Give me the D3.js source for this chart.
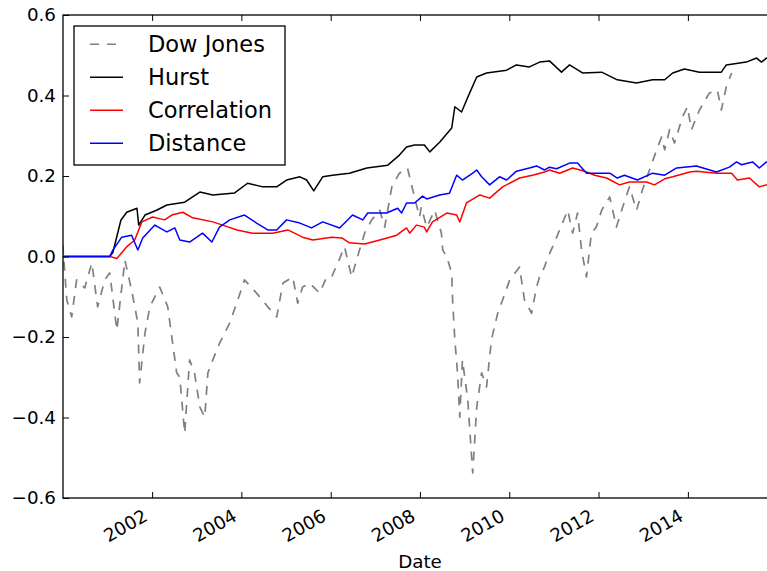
<!DOCTYPE html>
<html>
<head>
<meta charset="utf-8">
<script src="https://cdn.jsdelivr.net/npm/d3@7"></script>
<style>
  body { margin: 0; background: #fff; }
  text { font-family: "DejaVu Sans", sans-serif; fill: #000; }
</style>
</head>
<body>
<svg id="chart" width="767" height="571"></svg>
<script>
// values, [decimal year, value]
var dowJones = [
  [2000.00, 0.029], [2000.09, -0.108], [2000.20, -0.150], [2000.31, -0.058], [2000.49, -0.078],
  [2000.65, -0.016], [2000.78, -0.125], [2000.94, -0.058], [2001.05, -0.041], [2001.21, -0.183],
  [2001.39, -0.009], [2001.54, -0.083], [2001.68, -0.165], [2001.72, -0.314], [2001.84, -0.190],
  [2001.95, -0.125], [2002.17, -0.076], [2002.35, -0.125], [2002.55, -0.289], [2002.62, -0.300],
  [2002.73, -0.439], [2002.84, -0.257], [2002.95, -0.289], [2003.07, -0.374], [2003.18, -0.399],
  [2003.25, -0.289], [2003.36, -0.257], [2003.51, -0.216], [2003.74, -0.165], [2003.92, -0.108],
  [2004.07, -0.058], [2004.34, -0.091], [2004.59, -0.125], [2004.79, -0.150], [2004.93, -0.066],
  [2005.15, -0.051], [2005.26, -0.116], [2005.37, -0.076], [2005.53, -0.066], [2005.75, -0.091],
  [2005.91, -0.051], [2006.02, -0.051], [2006.16, -0.016], [2006.31, 0.024], [2006.47, -0.051],
  [2006.60, -0.001], [2006.76, 0.058], [2006.92, 0.091], [2007.10, 0.115], [2007.21, 0.073],
  [2007.37, 0.173], [2007.54, 0.207], [2007.72, 0.220], [2007.84, 0.165], [2007.99, 0.098],
  [2008.03, 0.123], [2008.15, 0.073], [2008.33, 0.115], [2008.48, 0.058], [2008.51, 0.016],
  [2008.60, -0.001], [2008.71, -0.041], [2008.73, -0.108], [2008.78, -0.207], [2008.84, -0.289],
  [2008.89, -0.399], [2008.95, -0.257], [2009.07, -0.357], [2009.18, -0.538], [2009.27, -0.374],
  [2009.38, -0.289], [2009.49, -0.324], [2009.60, -0.207], [2009.74, -0.141], [2009.85, -0.108],
  [2010.01, -0.058], [2010.23, -0.026], [2010.34, -0.108], [2010.50, -0.141], [2010.61, -0.076],
  [2010.68, -0.050], [2010.79, -0.026], [2010.84, -0.009], [2011.01, 0.034], [2011.19, 0.083],
  [2011.31, 0.115], [2011.42, 0.058], [2011.53, 0.108], [2011.62, 0.016], [2011.73, -0.051],
  [2011.84, 0.058], [2011.95, 0.073], [2012.07, 0.115], [2012.25, 0.148], [2012.40, 0.073],
  [2012.54, 0.123], [2012.69, 0.173], [2012.85, 0.115], [2012.98, 0.165], [2013.14, 0.215],
  [2013.30, 0.265], [2013.41, 0.297], [2013.48, 0.265], [2013.59, 0.315], [2013.70, 0.282],
  [2013.88, 0.347], [2013.99, 0.372], [2014.08, 0.315], [2014.26, 0.364], [2014.48, 0.406],
  [2014.66, 0.414], [2014.75, 0.364], [2014.86, 0.421], [2014.98, 0.456]
];

var hurst = [
  [2000.00, 0], [2001.05, 0], [2001.12, 0.010], [2001.30, 0.090], [2001.43, 0.110],
  [2001.66, 0.120], [2001.70, 0.078], [2001.84, 0.103], [2002.10, 0.115], [2002.33, 0.128],
  [2002.62, 0.133], [2002.73, 0.135], [2003.07, 0.160], [2003.36, 0.153], [2003.85, 0.158],
  [2004.14, 0.182], [2004.48, 0.173], [2004.79, 0.173], [2005.01, 0.190], [2005.31, 0.198],
  [2005.46, 0.190], [2005.62, 0.163], [2005.82, 0.198], [2006.04, 0.202], [2006.42, 0.207],
  [2006.81, 0.220], [2007.28, 0.227], [2007.54, 0.252], [2007.70, 0.272], [2007.88, 0.277],
  [2008.10, 0.277], [2008.22, 0.260], [2008.44, 0.284], [2008.71, 0.319], [2008.78, 0.372],
  [2008.93, 0.359], [2009.11, 0.406], [2009.27, 0.446], [2009.49, 0.456], [2009.94, 0.463],
  [2010.16, 0.476], [2010.45, 0.471], [2010.68, 0.483], [2010.90, 0.486], [2011.17, 0.458],
  [2011.35, 0.476], [2011.64, 0.456], [2012.07, 0.458], [2012.42, 0.439], [2012.85, 0.431],
  [2013.21, 0.439], [2013.48, 0.439], [2013.66, 0.456], [2013.92, 0.466], [2014.26, 0.458],
  [2014.75, 0.458], [2014.86, 0.476], [2015.31, 0.483], [2015.54, 0.493], [2015.65, 0.483],
  [2015.76, 0.493], [2015.98, 0.490]
];

var correlation = [
  [2000.00, 0], [2001.05, 0], [2001.21, -0.005], [2001.43, 0.024], [2001.61, 0.041],
  [2001.77, 0.086], [2002.01, 0.098], [2002.28, 0.091], [2002.44, 0.103], [2002.69, 0.110],
  [2002.91, 0.096], [2003.36, 0.086], [2003.58, 0.078], [2003.90, 0.066], [2004.25, 0.058],
  [2004.70, 0.058], [2005.04, 0.066], [2005.37, 0.048], [2005.60, 0.041], [2006.02, 0.048],
  [2006.25, 0.046], [2006.42, 0.034], [2006.76, 0.031], [2007.10, 0.041], [2007.48, 0.053],
  [2007.70, 0.071], [2007.77, 0.058], [2007.92, 0.078], [2008.10, 0.073], [2008.15, 0.061],
  [2008.28, 0.086], [2008.60, 0.108], [2008.82, 0.103], [2008.89, 0.086], [2009.04, 0.133],
  [2009.34, 0.153], [2009.56, 0.145], [2009.85, 0.173], [2010.23, 0.195], [2010.52, 0.202],
  [2010.79, 0.210], [2010.90, 0.215], [2011.13, 0.207], [2011.42, 0.220], [2011.69, 0.212],
  [2011.91, 0.202], [2012.18, 0.195], [2012.47, 0.178], [2012.69, 0.185], [2013.07, 0.185],
  [2013.25, 0.178], [2013.48, 0.193], [2013.66, 0.198], [2014.04, 0.210], [2014.19, 0.212],
  [2014.64, 0.207], [2014.98, 0.207], [2015.11, 0.190], [2015.38, 0.195], [2015.60, 0.173],
  [2015.76, 0.178], [2015.98, 0.176]
];

var distance = [
  [2000.00, 0], [2001.05, 0], [2001.12, 0.016], [2001.32, 0.048], [2001.54, 0.053],
  [2001.68, 0.016], [2001.79, 0.046], [2002.06, 0.078], [2002.33, 0.061], [2002.51, 0.071],
  [2002.62, 0.041], [2002.84, 0.036], [2003.13, 0.058], [2003.34, 0.036], [2003.51, 0.073],
  [2003.74, 0.091], [2004.07, 0.103], [2004.34, 0.083], [2004.59, 0.066], [2004.79, 0.066],
  [2005.01, 0.091], [2005.31, 0.083], [2005.57, 0.071], [2005.82, 0.086], [2006.20, 0.071],
  [2006.49, 0.103], [2006.72, 0.091], [2006.83, 0.108], [2007.25, 0.108], [2007.50, 0.120],
  [2007.59, 0.108], [2007.70, 0.133], [2007.88, 0.133], [2008.06, 0.150], [2008.15, 0.143],
  [2008.44, 0.153], [2008.66, 0.157], [2008.82, 0.202], [2008.95, 0.190], [2009.18, 0.207],
  [2009.27, 0.215], [2009.38, 0.198], [2009.56, 0.178], [2009.78, 0.198], [2009.94, 0.190],
  [2010.16, 0.212], [2010.45, 0.220], [2010.61, 0.225], [2010.79, 0.215], [2010.90, 0.222],
  [2011.06, 0.218], [2011.35, 0.232], [2011.53, 0.232], [2011.73, 0.207], [2011.98, 0.207],
  [2012.25, 0.207], [2012.42, 0.195], [2012.58, 0.202], [2012.87, 0.190], [2013.21, 0.207],
  [2013.48, 0.202], [2013.75, 0.220], [2014.19, 0.225], [2014.64, 0.210], [2014.93, 0.222],
  [2015.09, 0.235], [2015.20, 0.228], [2015.45, 0.235], [2015.60, 0.220], [2015.76, 0.235],
  [2015.98, 0.233]
];

var yTicks = [-0.6, -0.4, -0.2, 0.0, 0.2, 0.4, 0.6];
var xTickYears = [2002, 2004, 2006, 2008, 2010, 2012, 2014];
var legendNames = ["Dow Jones", "Hurst", "Correlation", "Distance"];

function yearToDate(t) {
  var yr = Math.floor(t);
  var a = new Date(yr, 0, 1), b = new Date(yr + 1, 0, 1);
  return new Date(+a + (t - yr) * (b - a));
}

function drawChart() {
  var svg = d3.select("#chart");
  var mLeft = 63, mRight = 777, mTop = 15, mBottom = 498;

  var x = d3.scaleTime()
      .domain([new Date(2000, 0, 3), new Date(2015, 11, 31)])
      .range([mLeft, mRight]);
  var y = d3.scaleLinear().domain([-0.6, 0.6]).range([mBottom, mTop]);

  svg.append("defs").append("clipPath").attr("id", "plotclip")
    .append("rect").attr("x", mLeft).attr("y", mTop)
    .attr("width", mRight - mLeft).attr("height", mBottom - mTop);

  var line = d3.line()
      .x(function(d) { return x(yearToDate(d[0])); })
      .y(function(d) { return y(d[1]); });

  var series = [
    { data: dowJones, color: "#808080", dash: "9,8", width: 1.7 },
    { data: hurst, color: "#000000", dash: null, width: 1.5 },
    { data: correlation, color: "#ff0000", dash: null, width: 1.5 },
    { data: distance, color: "#0000ff", dash: null, width: 1.5 }
  ];

  var plot = svg.append("g").attr("clip-path", "url(#plotclip)");
  series.forEach(function(s) {
    plot.append("path")
        .datum(s.data)
        .attr("fill", "none")
        .attr("stroke", s.color)
        .attr("stroke-width", s.width)
        .attr("stroke-linejoin", "round")
        .attr("stroke-dasharray", s.dash)
        .attr("d", line);
  });

  // axes, ticks pointing inward like matplotlib classic
  var xTicks = xTickYears.map(function(yr) { return new Date(yr, 0, 1); });

  var gx = svg.append("g")
      .attr("transform", "translate(0," + mBottom + ")")
      .call(d3.axisBottom(x).tickValues(xTicks).tickSize(-6).tickSizeOuter(0)
        .tickFormat(d3.timeFormat("%Y")));
  gx.selectAll("text")
      .attr("x", 0).attr("y", 0).attr("dy", "0.73em")
      .attr("text-anchor", "end")
      .attr("transform", "translate(-10.5,10) rotate(-30)");

  svg.append("g")
      .attr("transform", "translate(0," + mTop + ")")
      .call(d3.axisTop(x).tickValues(xTicks).tickSize(-6).tickSizeOuter(0).tickFormat(""));

  svg.append("g")
      .attr("transform", "translate(" + mLeft + ",0)")
      .call(d3.axisLeft(y).tickValues(yTicks).tickSize(-6).tickSizeOuter(0)
        .tickPadding(7).tickFormat(d3.format(".1f")));

  svg.selectAll(".domain").remove();
  svg.selectAll(".tick line").attr("stroke", "#000").attr("stroke-width", 1);
  svg.selectAll(".tick text").attr("fill", "#000")
      .style("font-size", "18.3px").style("font-family", "DejaVu Sans");

  svg.append("rect")
      .attr("x", mLeft).attr("y", mTop)
      .attr("width", mRight - mLeft).attr("height", mBottom - mTop)
      .attr("fill", "none").attr("stroke", "#000").attr("stroke-width", 1.3);

  svg.append("text")
      .attr("x", (mLeft + mRight) / 2).attr("y", 568)
      .attr("text-anchor", "middle")
      .style("font-size", "18.3px")
      .text("Date");

  // legend
  var legend = svg.append("g");
  legend.append("rect")
      .attr("x", 74).attr("y", 26).attr("width", 211).attr("height", 139)
      .attr("fill", "#fff").attr("stroke", "#000").attr("stroke-width", 1.3);

  legendNames.forEach(function(name, i) {
    var ly = 44.3 + i * 33;
    legend.append("line")
        .attr("x1", 90).attr("x2", 123).attr("y1", ly).attr("y2", ly)
        .attr("stroke", series[i].color).attr("stroke-width", 1.4)
        .attr("stroke-dasharray", series[i].dash);
    legend.append("text")
        .attr("x", 148).attr("y", ly + 8)
        .style("font-size", "22.5px")
        .text(name);
  });
}

drawChart();
</script>
</body>
</html>
